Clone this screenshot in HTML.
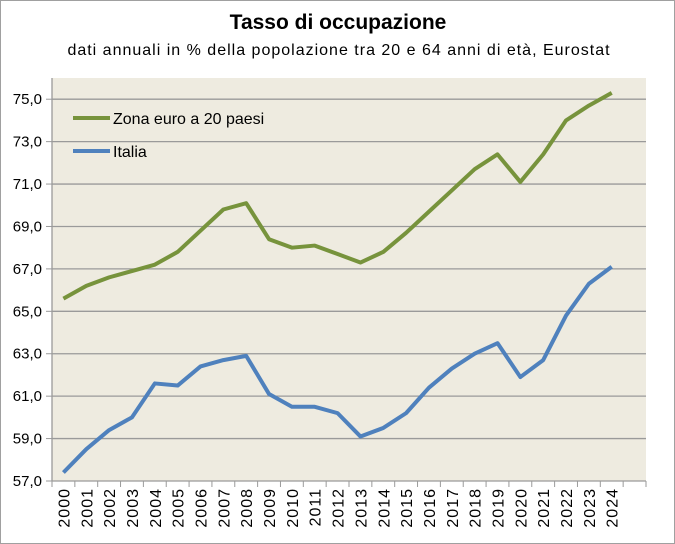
<!DOCTYPE html>
<html><head><meta charset="utf-8"><style>
body{margin:0;background:#fff}
svg{display:block;font-family:"Liberation Sans",sans-serif}
</style></head><body>
<svg id="c" width="675" height="544">
<rect x="0.5" y="0.5" width="674" height="543" fill="#fff" stroke="#a0a0a0"/>
<text x="338" y="29" text-anchor="middle" font-size="21" font-weight="bold" fill="#000">Tasso di occupazione</text>
<text x="339" y="55" text-anchor="middle" font-size="16" letter-spacing="1" fill="#000">dati annuali in % della popolazione tra 20 e 64 anni di età, Eurostat</text>
<rect x="52" y="78" width="594" height="403" fill="#eeebe0"/>
<g id="grid"></g><g id="axes"></g><g id="series"></g>
<g>
<line x1="73" y1="118" x2="110" y2="118" stroke="#77933c" stroke-width="4"/>
<text x="113" y="124" font-size="16" fill="#000">Zona euro a 20 paesi</text>
<line x1="73" y1="151" x2="110" y2="151" stroke="#4f81bd" stroke-width="4"/>
<text x="113" y="157" font-size="16" fill="#000">Italia</text>
</g>
</svg>
<script>
const years=["2000","2001","2002","2003","2004","2005","2006","2007","2008","2009","2010","2011","2012","2013","2014","2015","2016","2017","2018","2019","2020","2021","2022","2023","2024"];
const euroArea=[65.6,66.2,66.6,66.9,67.2,67.8,68.8,69.8,70.1,68.4,68.0,68.1,67.7,67.3,67.8,68.7,69.7,70.7,71.7,72.4,71.1,72.4,74.0,74.7,75.3];
const italy=[57.4,58.5,59.4,60.0,61.6,61.5,62.4,62.7,62.9,61.1,60.5,60.5,60.2,59.1,59.5,60.2,61.4,62.3,63.0,63.5,61.9,62.7,64.8,66.3,67.1];
const yTicks=[57,59,61,63,65,67,69,71,73,75];
const NS="http://www.w3.org/2000/svg";
const L=52,R=646,T=78,B=481,yMin=57,yMax=76,slots=26;
const sw=(R-L)/slots;
const x=i=>L+sw*(i+0.5);
const y=v=>B-(v-yMin)/(yMax-yMin)*(B-T);
function mk(tag,attrs,parent){const e=document.createElementNS(NS,tag);for(const k in attrs)e.setAttribute(k,attrs[k]);document.getElementById(parent).appendChild(e);return e;}
yTicks.forEach(v=>{
 if(v>yMin){const g=mk('line',{x1:L,x2:R,y1:y(v),y2:y(v),stroke:'#9a9a9a','stroke-width':1.3},'grid');
 
 }
 const tk=mk('line',{x1:L-6,x2:L,y1:y(v),y2:y(v),stroke:'#9a9a9a'},'axes');
 
 
 const t=mk('text',{x:L-10,y:y(v)+5,'text-anchor':'end','font-size':15,fill:'#000'},'axes');
 t.textContent=v.toFixed(1).replace('.',',');
 
 
});
const ya=mk('line',{x1:L,x2:L,y1:T,y2:B,stroke:'#9a9a9a','stroke-width':1.3},'axes');


const xa=mk('line',{x1:L,x2:R,y1:B,y2:B,stroke:'#9a9a9a','stroke-width':1.3},'axes');


for(let i=0;i<=slots;i++){const tk=mk('line',{x1:L+sw*i,x2:L+sw*i,y1:B,y2:B+6,stroke:'#9a9a9a'},'axes');
 
 }
years.forEach((yr,i)=>{
 const t=mk('text',{x:0,y:0,'text-anchor':'end','font-size':16,'letter-spacing':1,fill:'#000',transform:`translate(${x(i)+6},${B+7}) rotate(-90)`},'axes');
 t.textContent=yr;
 
 
});
function line(data,color,name){
 const p=mk('polyline',{points:data.map((v,i)=>x(i)+','+y(v)).join(' '),fill:'none',stroke:color,'stroke-width':4,'stroke-linejoin':'round'},'series');
 
 
}
line(euroArea,'#77933c','euro-area-line');
line(italy,'#4f81bd','italy-line');
</script>
</body></html>
